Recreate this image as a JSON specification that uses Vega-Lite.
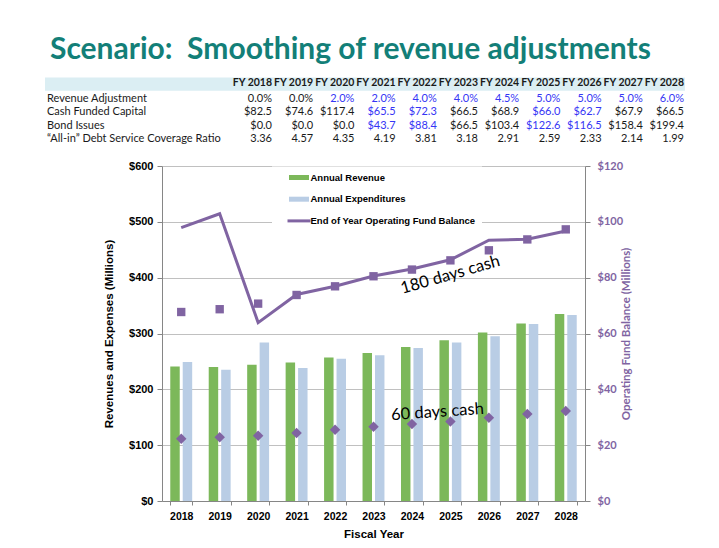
{
  "$schema": "https://vega.github.io/schema/vega-lite/v6.json",
  "background": "white",
  "padding": {"left": 45, "top": 35, "right": 5, "bottom": 5},
  "title": {"text": "Scenario:\u00a0 Smoothing of revenue adjustments", "anchor": "start", "frame": "bounds", "dx": 5, "font": "Lato", "fontSize": 30, "fontWeight": "bold", "color": "#137f78", "offset": 12.5},
  "spacing": 20,
  "bounds": "flush",
  "config": {
    "font": "Liberation Sans",
    "axis": {"domainColor": "#868686", "tickColor": "#868686", "gridColor": "#c0c0c0", "labelColor": "black", "titleColor": "black"}
  },
  "datasets": {
    "cells": [
      {"row": "Revenue Adjustment", "col": "FY 2018", "text": "0.0%", "kind": "base"},
      {"row": "Revenue Adjustment", "col": "FY 2019", "text": "0.0%", "kind": "base"},
      {"row": "Revenue Adjustment", "col": "FY 2020", "text": "2.0%", "kind": "adjusted"},
      {"row": "Revenue Adjustment", "col": "FY 2021", "text": "2.0%", "kind": "adjusted"},
      {"row": "Revenue Adjustment", "col": "FY 2022", "text": "4.0%", "kind": "adjusted"},
      {"row": "Revenue Adjustment", "col": "FY 2023", "text": "4.0%", "kind": "adjusted"},
      {"row": "Revenue Adjustment", "col": "FY 2024", "text": "4.5%", "kind": "adjusted"},
      {"row": "Revenue Adjustment", "col": "FY 2025", "text": "5.0%", "kind": "adjusted"},
      {"row": "Revenue Adjustment", "col": "FY 2026", "text": "5.0%", "kind": "adjusted"},
      {"row": "Revenue Adjustment", "col": "FY 2027", "text": "5.0%", "kind": "adjusted"},
      {"row": "Revenue Adjustment", "col": "FY 2028", "text": "6.0%", "kind": "adjusted"},
      {"row": "Cash Funded Capital", "col": "FY 2018", "text": "$82.5", "kind": "base"},
      {"row": "Cash Funded Capital", "col": "FY 2019", "text": "$74.6", "kind": "base"},
      {"row": "Cash Funded Capital", "col": "FY 2020", "text": "$117.4", "kind": "base"},
      {"row": "Cash Funded Capital", "col": "FY 2021", "text": "$65.5", "kind": "adjusted"},
      {"row": "Cash Funded Capital", "col": "FY 2022", "text": "$72.3", "kind": "adjusted"},
      {"row": "Cash Funded Capital", "col": "FY 2023", "text": "$66.5", "kind": "base"},
      {"row": "Cash Funded Capital", "col": "FY 2024", "text": "$68.9", "kind": "base"},
      {"row": "Cash Funded Capital", "col": "FY 2025", "text": "$66.0", "kind": "adjusted"},
      {"row": "Cash Funded Capital", "col": "FY 2026", "text": "$62.7", "kind": "adjusted"},
      {"row": "Cash Funded Capital", "col": "FY 2027", "text": "$67.9", "kind": "base"},
      {"row": "Cash Funded Capital", "col": "FY 2028", "text": "$66.5", "kind": "base"},
      {"row": "Bond Issues", "col": "FY 2018", "text": "$0.0", "kind": "base"},
      {"row": "Bond Issues", "col": "FY 2019", "text": "$0.0", "kind": "base"},
      {"row": "Bond Issues", "col": "FY 2020", "text": "$0.0", "kind": "base"},
      {"row": "Bond Issues", "col": "FY 2021", "text": "$43.7", "kind": "adjusted"},
      {"row": "Bond Issues", "col": "FY 2022", "text": "$88.4", "kind": "adjusted"},
      {"row": "Bond Issues", "col": "FY 2023", "text": "$66.5", "kind": "base"},
      {"row": "Bond Issues", "col": "FY 2024", "text": "$103.4", "kind": "base"},
      {"row": "Bond Issues", "col": "FY 2025", "text": "$122.6", "kind": "adjusted"},
      {"row": "Bond Issues", "col": "FY 2026", "text": "$116.5", "kind": "adjusted"},
      {"row": "Bond Issues", "col": "FY 2027", "text": "$158.4", "kind": "base"},
      {"row": "Bond Issues", "col": "FY 2028", "text": "$199.4", "kind": "base"},
      {"row": "“All-in” Debt Service Coverage Ratio", "col": "FY 2018", "text": "3.36", "kind": "base"},
      {"row": "“All-in” Debt Service Coverage Ratio", "col": "FY 2019", "text": "4.57", "kind": "base"},
      {"row": "“All-in” Debt Service Coverage Ratio", "col": "FY 2020", "text": "4.35", "kind": "base"},
      {"row": "“All-in” Debt Service Coverage Ratio", "col": "FY 2021", "text": "4.19", "kind": "base"},
      {"row": "“All-in” Debt Service Coverage Ratio", "col": "FY 2022", "text": "3.81", "kind": "base"},
      {"row": "“All-in” Debt Service Coverage Ratio", "col": "FY 2023", "text": "3.18", "kind": "base"},
      {"row": "“All-in” Debt Service Coverage Ratio", "col": "FY 2024", "text": "2.91", "kind": "base"},
      {"row": "“All-in” Debt Service Coverage Ratio", "col": "FY 2025", "text": "2.59", "kind": "base"},
      {"row": "“All-in” Debt Service Coverage Ratio", "col": "FY 2026", "text": "2.33", "kind": "base"},
      {"row": "“All-in” Debt Service Coverage Ratio", "col": "FY 2027", "text": "2.14", "kind": "base"},
      {"row": "“All-in” Debt Service Coverage Ratio", "col": "FY 2028", "text": "1.99", "kind": "base"}
    ],
    "bars": [
      {"year": 2018, "series": "Annual Revenue", "value": 241},
      {"year": 2018, "series": "Annual Expenditures", "value": 249},
      {"year": 2019, "series": "Annual Revenue", "value": 240},
      {"year": 2019, "series": "Annual Expenditures", "value": 235},
      {"year": 2020, "series": "Annual Revenue", "value": 244},
      {"year": 2020, "series": "Annual Expenditures", "value": 284},
      {"year": 2021, "series": "Annual Revenue", "value": 248},
      {"year": 2021, "series": "Annual Expenditures", "value": 238},
      {"year": 2022, "series": "Annual Revenue", "value": 257},
      {"year": 2022, "series": "Annual Expenditures", "value": 255},
      {"year": 2023, "series": "Annual Revenue", "value": 265},
      {"year": 2023, "series": "Annual Expenditures", "value": 261},
      {"year": 2024, "series": "Annual Revenue", "value": 276},
      {"year": 2024, "series": "Annual Expenditures", "value": 274},
      {"year": 2025, "series": "Annual Revenue", "value": 288},
      {"year": 2025, "series": "Annual Expenditures", "value": 284},
      {"year": 2026, "series": "Annual Revenue", "value": 302},
      {"year": 2026, "series": "Annual Expenditures", "value": 295},
      {"year": 2027, "series": "Annual Revenue", "value": 318},
      {"year": 2027, "series": "Annual Expenditures", "value": 317},
      {"year": 2028, "series": "Annual Revenue", "value": 335},
      {"year": 2028, "series": "Annual Expenditures", "value": 333}
    ],
    "fund": [
      {"year": 2018, "balance": 97.9, "days180": 67.7, "days60": 22.3},
      {"year": 2019, "balance": 102.9, "days180": 68.7, "days60": 22.8},
      {"year": 2020, "balance": 63.9, "days180": 70.7, "days60": 23.4},
      {"year": 2021, "balance": 74.0, "days180": 73.8, "days60": 24.4},
      {"year": 2022, "balance": 76.9, "days180": 76.9, "days60": 25.5},
      {"year": 2023, "balance": 80.6, "days180": 80.5, "days60": 26.6},
      {"year": 2024, "balance": 83.1, "days180": 82.9, "days60": 27.6},
      {"year": 2025, "balance": 86.4, "days180": 86.2, "days60": 28.5},
      {"year": 2026, "balance": 93.4, "days180": 89.8, "days60": 29.8},
      {"year": 2027, "balance": 93.8, "days180": 93.7, "days60": 31.2},
      {"year": 2028, "balance": 96.7, "days180": 97.3, "days60": 32.2}
    ],
    "notes": [
      {"year": 2025, "value": 81, "label": "180 days cash"},
      {"year": 2025, "value": 32.2, "label": "60 days cash"}
    ]
  },
  "vconcat": [
    {
      "width": 423,
      "height": 66.5,
      "view": {"stroke": null},
      "encoding": {
        "x": {"field": "col", "type": "nominal", "scale": {"type": "point", "domain": ["FY 2018", "FY 2019", "FY 2020", "FY 2021", "FY 2022", "FY 2023", "FY 2024", "FY 2025", "FY 2026", "FY 2027", "FY 2028"], "range": [110, 522], "padding": 0}, "axis": null},
        "y": {"field": "row", "type": "nominal", "scale": {"type": "band", "domain": ["header", "Revenue Adjustment", "Cash Funded Capital", "Bond Issues", "“All-in” Debt Service Coverage Ratio"], "paddingInner": 0, "paddingOuter": 0}, "axis": null}
      },
      "layer": [
        {
          "data": {"values": [{"row": "header", "col": "FY 2018", "end": "FY 2028"}]},
          "mark": {"type": "rect", "color": "#dbeef3", "xOffset": -227, "x2Offset": 1, "yOffset": -1.5},
          "encoding": {"x2": {"field": "end"}}
        },
        {
          "data": {"values": [{"row": "header", "col": "FY 2018"}, {"row": "header", "col": "FY 2019"}, {"row": "header", "col": "FY 2020"}, {"row": "header", "col": "FY 2021"}, {"row": "header", "col": "FY 2022"}, {"row": "header", "col": "FY 2023"}, {"row": "header", "col": "FY 2024"}, {"row": "header", "col": "FY 2025"}, {"row": "header", "col": "FY 2026"}, {"row": "header", "col": "FY 2027"}, {"row": "header", "col": "FY 2028"}]},
          "mark": {"type": "text", "align": "right", "baseline": "middle", "dy": -2.5, "font": "Lato", "fontWeight": "bold", "fontSize": 10.5, "color": "#1a1a1a"},
          "encoding": {"text": {"field": "col"}}
        },
        {
          "data": {"values": [{"row": "Revenue Adjustment"}, {"row": "Cash Funded Capital"}, {"row": "Bond Issues"}, {"row": "“All-in” Debt Service Coverage Ratio"}]},
          "mark": {"type": "text", "align": "left", "baseline": "middle", "dx": -225, "font": "Lato", "fontSize": 11, "color": "#1a1a1a"},
          "encoding": {"x": {"datum": "FY 2018"}, "text": {"field": "row"}}
        },
        {
          "data": {"name": "cells"},
          "transform": [{"filter": "datum.kind === 'base'"}],
          "mark": {"type": "text", "align": "right", "baseline": "middle", "font": "Lato", "fontSize": 11, "color": "#1a1a1a"},
          "encoding": {"text": {"field": "text"}}
        },
        {
          "data": {"name": "cells"},
          "transform": [{"filter": "datum.kind === 'adjusted'"}],
          "mark": {"type": "text", "align": "right", "baseline": "middle", "font": "Lato", "fontSize": 11, "color": "#3535f5"},
          "encoding": {"text": {"field": "text"}}
        }
      ]
    },
    {
      "width": 423,
      "height": 335,
      "view": {"stroke": null},
      "encoding": {
        "x": {"field": "year", "type": "ordinal", "scale": {"paddingInner": 0.43, "paddingOuter": 0.215},
          "axis": {"title": "Fiscal Year", "labelAngle": 0, "tickBand": "extent", "tickSize": 4, "labelFont": "Liberation Sans", "labelFontWeight": "bold", "labelFontSize": 10.5, "labelPadding": 6, "titleFont": "Liberation Sans", "titleFontSize": 11.5, "titleFontWeight": "bold", "titlePadding": 7}}
      },
      "layer": [
        {
          "data": {"name": "bars"},
          "mark": {"type": "bar"},
          "encoding": {
            "xOffset": {"field": "series", "type": "nominal", "scale": {"domain": ["Annual Revenue", "Annual Expenditures"], "paddingInner": 0.24, "paddingOuter": 0}},
            "y": {"field": "value", "type": "quantitative", "scale": {"domain": [0, 600], "nice": false},
              "axis": {"title": "Revenues and Expenses (Millions)", "values": [0, 100, 200, 300, 400, 500, 600], "format": "$,.0f", "labelFont": "Liberation Sans", "labelFontWeight": "bold", "labelFontSize": 11, "labelPadding": 4, "tickSize": 5, "titleFont": "Liberation Sans", "titleFontSize": 11.5, "titleFontWeight": "bold", "titlePadding": 14, "grid": true, "gridWidth": 1.2}},
            "color": {"field": "series", "type": "nominal",
              "scale": {"domain": ["Annual Revenue", "Annual Expenditures", "End of Year Operating Fund Balance"], "range": ["#7cb85a", "#b9cde5", "#8064a2"]},
              "legend": {"orient": "none", "legendX": 110, "legendY": 87.5, "title": null, "fillColor": "white", "padding": 6, "symbolOffset": 16, "symbolType": "M-2,-0.5H2V0.5H-2Z", "symbolSize": 100, "symbolStrokeWidth": 0, "labelFont": "Liberation Sans", "labelFontWeight": "bold", "labelFontSize": 9.5, "labelColor": "black", "labelOffset": 6.5, "rowPadding": 11.7, "labelLimit": 300,
                "encode": {"symbols": {"update": {"shape": {"signal": "datum.value === 'End of Year Operating Fund Balance' ? 'M-2.3,-0.3H2.3V0.3H-2.3Z' : 'M-2,-0.5H2V0.5H-2Z'"}}}}}}
          }
        },
        {
          "layer": [
            {
              "data": {"name": "fund"},
              "mark": {"type": "line", "color": "#8064a2", "strokeWidth": 3},
              "encoding": {"y": {"field": "balance", "type": "quantitative", "scale": {"domain": [0, 120], "nice": false},
                "axis": {"orient": "right", "title": "Operating Fund Balance (Millions)", "values": [0, 20, 40, 60, 80, 100, 120], "format": "$,.0f", "labelFont": "Lato", "labelFontWeight": "bold", "labelFontSize": 11, "labelColor": "#8064a2", "labelPadding": 7, "tickSize": 5, "titleColor": "#8064a2", "titleFont": "Lato", "titleFontSize": 11.5, "titleFontWeight": "bold", "titleAngle": 270, "titlePadding": 9, "grid": false}}}
            },
            {
              "data": {"name": "fund"},
              "mark": {"type": "point", "shape": "square", "filled": true, "size": 70, "color": "#8064a2", "opacity": 1},
              "encoding": {"y": {"field": "days180", "type": "quantitative", "scale": {"domain": [0, 120], "nice": false},
                "axis": {"orient": "right", "title": "Operating Fund Balance (Millions)", "values": [0, 20, 40, 60, 80, 100, 120], "format": "$,.0f", "labelFont": "Lato", "labelFontWeight": "bold", "labelFontSize": 11, "labelColor": "#8064a2", "labelPadding": 7, "tickSize": 5, "titleColor": "#8064a2", "titleFont": "Lato", "titleFontSize": 11.5, "titleFontWeight": "bold", "titleAngle": 270, "titlePadding": 9, "grid": false}}}
            },
            {
              "data": {"name": "fund"},
              "mark": {"type": "point", "shape": "diamond", "filled": true, "size": 110, "color": "#8064a2", "opacity": 1},
              "encoding": {"y": {"field": "days60", "type": "quantitative", "scale": {"domain": [0, 120], "nice": false},
                "axis": {"orient": "right", "title": "Operating Fund Balance (Millions)", "values": [0, 20, 40, 60, 80, 100, 120], "format": "$,.0f", "labelFont": "Lato", "labelFontWeight": "bold", "labelFontSize": 11, "labelColor": "#8064a2", "labelPadding": 7, "tickSize": 5, "titleColor": "#8064a2", "titleFont": "Lato", "titleFontSize": 11.5, "titleFontWeight": "bold", "titleAngle": 270, "titlePadding": 9, "grid": false}}}
            },
            {
              "data": {"name": "notes"},
              "transform": [{"filter": "datum.label === '180 days cash'"}],
              "mark": {"type": "text", "angle": 344, "font": "Lato", "fontSize": 16.5, "color": "black", "baseline": "middle"},
              "encoding": {"y": {"field": "value", "type": "quantitative", "scale": {"domain": [0, 120], "nice": false},
                "axis": {"orient": "right", "title": "Operating Fund Balance (Millions)", "values": [0, 20, 40, 60, 80, 100, 120], "format": "$,.0f", "labelFont": "Lato", "labelFontWeight": "bold", "labelFontSize": 11, "labelColor": "#8064a2", "labelPadding": 7, "tickSize": 5, "titleColor": "#8064a2", "titleFont": "Lato", "titleFontSize": 11.5, "titleFontWeight": "bold", "titleAngle": 270, "titlePadding": 9, "grid": false}}, "text": {"field": "label"}}
            },
            {
              "data": {"name": "notes"},
              "transform": [{"filter": "datum.label === '60 days cash'"}],
              "mark": {"type": "text", "angle": 356, "dx": -13, "font": "Lato", "fontSize": 16.5, "color": "black", "baseline": "middle"},
              "encoding": {"y": {"field": "value", "type": "quantitative", "scale": {"domain": [0, 120], "nice": false},
                "axis": {"orient": "right", "title": "Operating Fund Balance (Millions)", "values": [0, 20, 40, 60, 80, 100, 120], "format": "$,.0f", "labelFont": "Lato", "labelFontWeight": "bold", "labelFontSize": 11, "labelColor": "#8064a2", "labelPadding": 7, "tickSize": 5, "titleColor": "#8064a2", "titleFont": "Lato", "titleFontSize": 11.5, "titleFontWeight": "bold", "titleAngle": 270, "titlePadding": 9, "grid": false}}, "text": {"field": "label"}}
            }
          ]
        }
      ],
      "resolve": {"scale": {"y": "independent"}}
    }
  ]
}
